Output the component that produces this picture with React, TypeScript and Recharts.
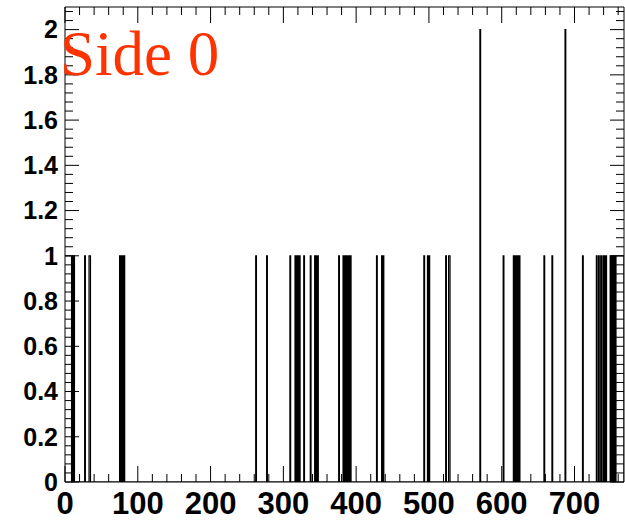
import React from "react";
import { LineChart, Line, XAxis, YAxis } from "recharts";

// Histogram: 768 channels, counts per channel
const BIN_COUNT = 768;
// channels with a single hit
const singleHitBins = [
  10, 12, 27, 75, 77, 79, 81, 262, 277, 309, 316, 318, 320, 322, 328, 337,
  343, 345, 347, 376, 382, 384, 386, 388, 390, 392, 428, 435, 437, 493, 498,
  500, 523, 602, 616, 618, 620, 622, 624, 658, 669, 711, 730, 733, 736, 739,
  741, 743, 749, 751, 753, 755,
];
// contiguous channel ranges [first, last] with a single hit each
const singleHitRuns = [
  [0, 8],
  [33, 34],
  [527, 528],
  [757, 767],
];
// channels with two hits
const doubleHitBins = [570, 687];

const xTicks = [0, 100, 200, 300, 400, 500, 600, 700];
const xTickLabels = ["0", "100", "200", "300", "400", "500", "600", "700"];
const yTicks = [0, 0.2, 0.4, 0.6, 0.8, 1, 1.2, 1.4, 1.6, 1.8, 2];
const yTickLabels = ["0", "0.2", "0.4", "0.6", "0.8", "1", "1.2", "1.4", "1.6", "1.8", "2"];
const titleText = "Side 0";

const xMinorTicks: number[] = [];
for (let v = 0; v <= BIN_COUNT; v += 20) xMinorTicks.push(v);
const yMinorTicks: number[] = [];
for (let k = 0; k <= 52; k++) yMinorTicks.push(+(k * 0.04).toFixed(2));

const counts: number[] = new Array(BIN_COUNT).fill(0);
singleHitBins.forEach((b) => (counts[b] = 1));
singleHitRuns.forEach(([a, b]) => {
  for (let i = a; i <= b; i++) counts[i] = 1;
});
doubleHitBins.forEach((b) => (counts[b] = 2));
const data = counts.map((c, i) => ({ x: i, y: c })).concat([{ x: BIN_COUNT, y: 0 }]);

const W = 625;
const H = 523;
const xDomain: [number, number] = [0, BIN_COUNT];
const yDomain: [number, number] = [0, 2.1];
const axisStroke = { stroke: "#000", strokeWidth: 1 };

const isMajor = (v: number, majors: number[]) => majors.some((m) => Math.abs(m - v) < 1e-6);

// tick-mark renderers (marks point into the frame, long for major, short for minor)
const makeTick = (side: "bottom" | "top" | "left" | "right", majors: number[], majLen: number, minLen: number) =>
  (props: any) => {
    const { x, y, payload } = props;
    const len = isMajor(payload.value, majors) ? majLen : minLen;
    let x2 = x;
    let y2 = y;
    if (side === "bottom") y2 = y - len;
    if (side === "top") y2 = y + len;
    if (side === "left") x2 = x + len;
    if (side === "right") x2 = x - len;
    return <line x1={x} y1={y} x2={x2} y2={y2} stroke="#000" strokeWidth={1} />;
  };

const bottomTick = makeTick("bottom", xTicks, 16, 8);
const topTick = makeTick("top", xTicks, 16, 8);
const leftTick = makeTick("left", yTicks, 14, 8);
const rightTick = makeTick("right", yTicks, 14, 8);

export default function App() {
  return (
    <div style={{ position: "absolute", left: 0, top: 0, width: W, height: H, background: "#fff" }}>
      <LineChart width={W} height={H} data={data} margin={{ top: 7, right: 1, bottom: 0, left: 0 }}>
        {/* bottom axis with labels */}
        <XAxis
          xAxisId="xb"
          dataKey="x"
          type="number"
          domain={xDomain}
          allowDataOverflow
          ticks={xTicks}
          interval={0}
          height={41}
          tickLine={false}
          tickSize={0}
          tickMargin={10}
          axisLine={axisStroke}
          tickFormatter={(v: number) => xTickLabels[xTicks.indexOf(v)] ?? String(v)}
          tick={{ fill: "#000", fontSize: 31, fontFamily: "Liberation Sans, Arial", fontWeight: "bold" }}
        />
        {/* bottom tick marks */}
        <XAxis xAxisId="xbt" dataKey="x" type="number" domain={xDomain} allowDataOverflow ticks={xMinorTicks}
          interval={0} height={1} mirror orientation="bottom" tickLine={false} tickSize={0} tickMargin={0}
          axisLine={false} tick={bottomTick} />
        {/* top frame + tick marks */}
        <XAxis xAxisId="xtt" dataKey="x" type="number" domain={xDomain} allowDataOverflow ticks={xMinorTicks}
          interval={0} height={1} mirror orientation="top" tickLine={false} tickSize={0} tickMargin={0}
          axisLine={axisStroke} tick={topTick} />
        {/* left axis with labels */}
        <YAxis
          yAxisId="yl"
          type="number"
          domain={yDomain}
          allowDataOverflow
          ticks={yTicks}
          interval={0}
          width={65}
          tickLine={false}
          tickSize={0}
          tickMargin={7}
          axisLine={axisStroke}
          tickFormatter={(v: number) => yTickLabels[yTicks.indexOf(v)] ?? String(v)}
          tick={{ fill: "#000", fontSize: 25, fontFamily: "Liberation Sans, Arial", fontWeight: "bold" }}
        />
        {/* left tick marks */}
        <YAxis yAxisId="ylt" type="number" domain={yDomain} allowDataOverflow ticks={yMinorTicks} interval={0}
          width={1} mirror orientation="left" tickLine={false} tickSize={0} tickMargin={0} axisLine={false}
          tick={leftTick} />
        {/* right frame + tick marks */}
        <YAxis yAxisId="yrt" type="number" domain={yDomain} allowDataOverflow ticks={yMinorTicks} interval={0}
          width={1} mirror orientation="right" tickLine={false} tickSize={0} tickMargin={0} axisLine={axisStroke}
          tick={rightTick} />
        <Line
          xAxisId="xb"
          yAxisId="yl"
          type="stepAfter"
          dataKey="y"
          stroke="#000"
          strokeWidth={1.2}
          dot={false}
          activeDot={false}
          isAnimationActive={false}
        />
      </LineChart>
      <svg width={W} height={H} style={{ position: "absolute", left: 0, top: 0, pointerEvents: "none" }}>
        <text x={60} y={75} fill="#ff3300" fontSize={63} fontFamily="Liberation Serif, Times New Roman, serif">
          {titleText}
        </text>
      </svg>
    </div>
  );
}
